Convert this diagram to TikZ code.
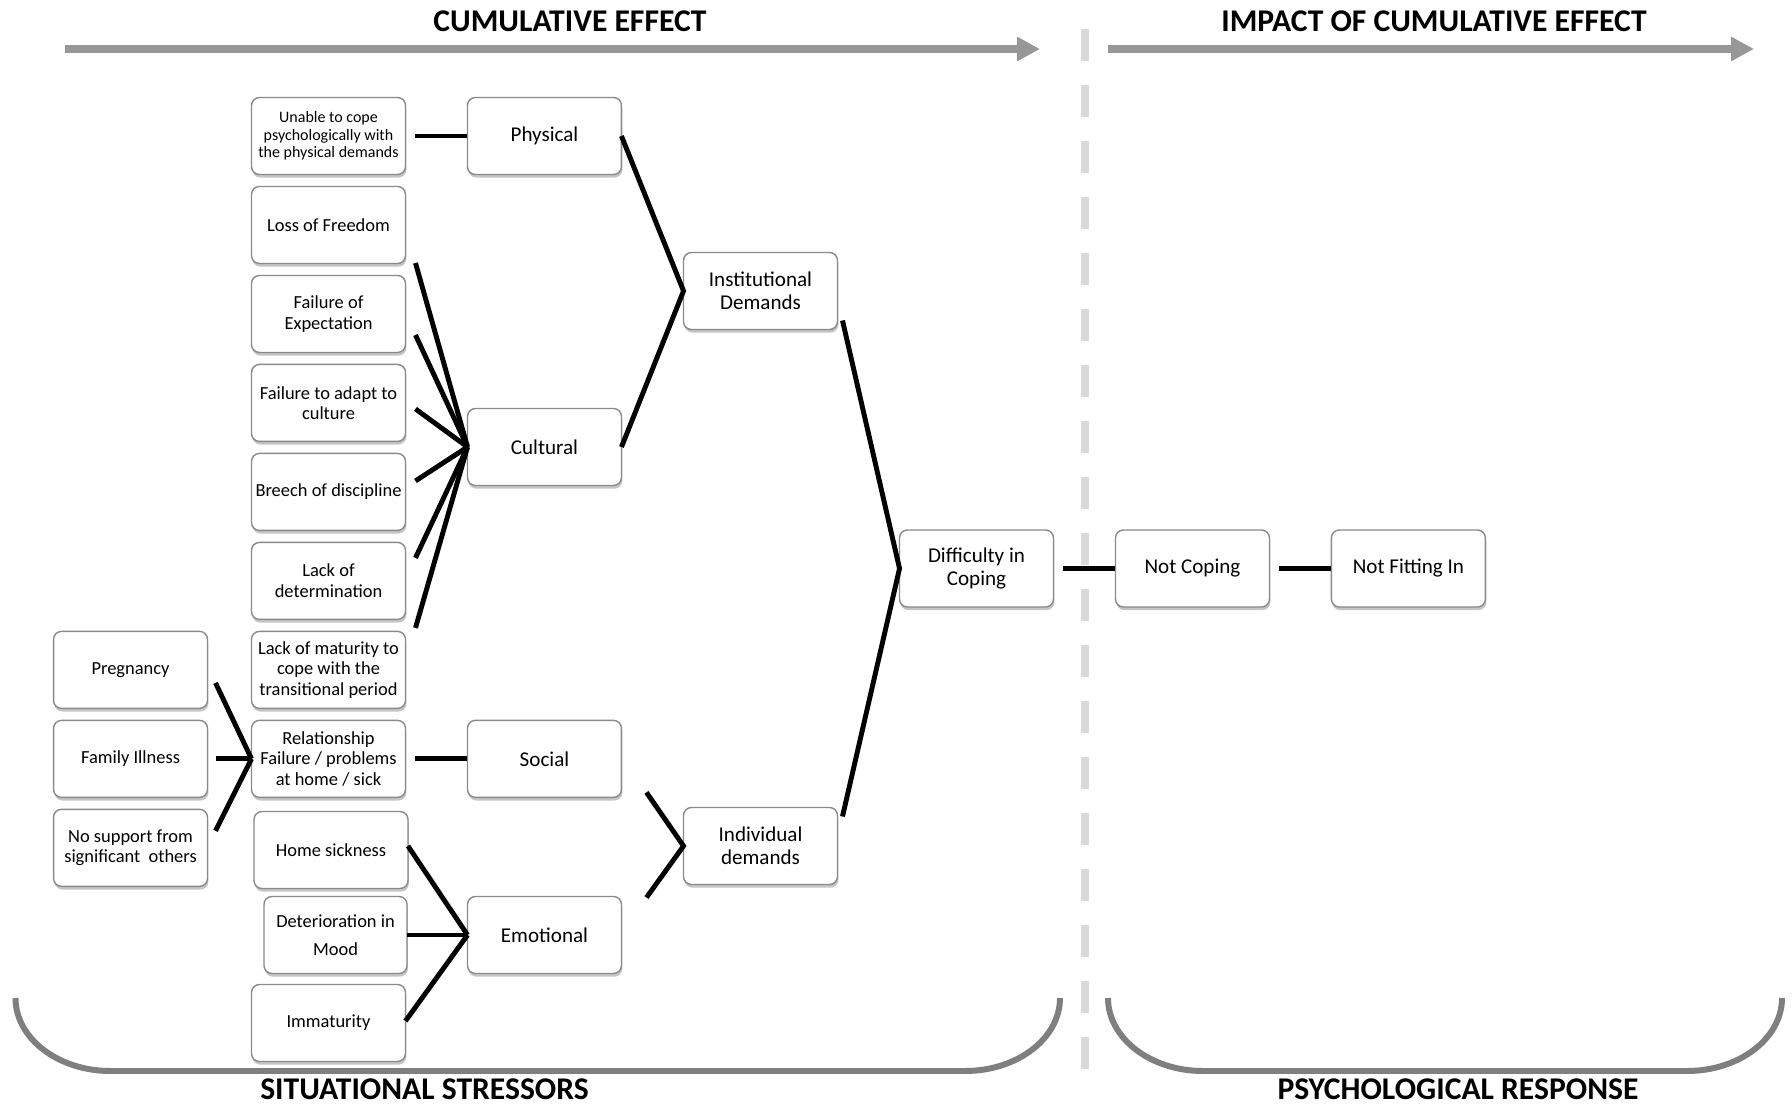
\documentclass[tikz,border=0pt]{standalone}
\usepackage{fontspec}
\setmainfont{Carlito}
\usetikzlibrary{positioning}
\usetikzlibrary{calc}
\usetikzlibrary{arrows.meta,shadows}
\definecolor{boxgray}{HTML}{8A8A8A}
\definecolor{arrowgray}{HTML}{979797}
\definecolor{bracegray}{HTML}{7F7F7F}
\definecolor{dividergray}{HTML}{D9D9D9}

\begin{document}
\begin{tikzpicture}[x=0.02cm, y=-0.02cm,
    stressor/.style={draw=boxgray, line width=0.8pt, rounded corners=4.5pt, fill=white,
      minimum width=3.08cm, minimum height=1.54cm, inner xsep=1pt, outer sep=0pt, align=center,
      font=\fontsize{10.5}{11.7}\selectfont,
      drop shadow={shadow xshift=0.5pt, shadow yshift=-1.8pt, fill=black!45, opacity=0.5}},
    demand/.style={stressor, font=\fontsize{12}{13.2}\selectfont},
    link/.style={line width=2.8pt, black},
    heading/.style={font=\bfseries\fontsize{18}{20}\selectfont},
    flow/.style={line width=4.5pt, arrowgray, -{Triangle[length=13pt, width=13pt]}},
    brace/.style={line width=3.4pt, bracegray},
    divider/.style={line width=4.5pt, dividergray, dash pattern=on 0.64cm off 0.48cm},
    node distance=0.24cm and 1.24cm]

    \fill[white] (0,0) rectangle (1792,1104);
    \useasboundingbox (0,0) rectangle (1792,1104);

    \node[heading] (cumhead) at (570,21) {CUMULATIVE EFFECT};
    \node[heading] (impacthead) at (1434,21) {IMPACT OF CUMULATIVE EFFECT};
    \draw[flow] (65,49) -- (1040,49);
    \draw[flow] (1108,49) -- (1754,49);
    \draw[divider] (1085,29) -- (1085,1069);

    \node[stressor, font=\fontsize{9.1}{10}\selectfont] (unable) at (328.5,136)
        {Unable to cope\\psychologically with\\the physical demands};
    \node[stressor, below=of unable] (loss) {Loss of Freedom};
    \node[stressor, below=of loss] (expect) {Failure of\\Expectation};
    \node[stressor, below=of expect] (adapt) {Failure to adapt to\\culture};
    \node[stressor, below=of adapt] (breech) {Breech of discipline};
    \node[stressor, below=of breech] (determ) {Lack of\\determination};
    \node[stressor, below=of determ] (maturity) {Lack of maturity to\\cope with the\\transitional period};
    \node[stressor, below=of maturity] (relation) {Relationship\\Failure / problems\\at home / sick};
    \node[stressor] (homesick) at (331,850) {Home sickness};
    \node[stressor, minimum width=2.86cm] (mood) at (335.5,935) {Deterioration in\\[4pt]Mood};
    \node[stressor] (immature) at (328.5,1023) {Immaturity};

    \node[stressor, left=0.88cm of maturity] (pregnancy) {Pregnancy};
    \node[stressor, below=of pregnancy] (illness) {Family Illness};
    \node[stressor, below=of illness] (nosupport) {No support from\\significant\ \ others};

    \node[demand, right=of unable] (physical) {Physical};
    \node[demand] (cultural) at (544.5,447) {Cultural};
    \node[demand, right=of relation] (social) {Social};
    \node[demand] (emotional) at (544.5,935) {Emotional};

    \node[demand] (institutional) at (760.5,291) {Institutional\\Demands};
    \node[demand] (individual) at (760.5,846) {Individual\\demands};

    \node[demand] (difficulty) at (976.5,568.5) {Difficulty in\\Coping};
    \node[demand, right=of difficulty] (notcoping) {Not Coping};
    \node[demand, right=of notcoping] (notfitting) {Not Fitting In};

    \draw[link] ($(unable.east)+(10,0)$) -- (physical.west);
    \foreach \src/\dy in {loss/38, expect/21, adapt/6, breech/-11, determ/-23, maturity/-42}
        \draw[link] ($(\src.east)+(10,\dy)$) -- (cultural.west);
    \foreach \src/\dy in {pregnancy/13, illness/0, nosupport/-17}
        \draw[link] ($(\src.east)+(8,\dy)$) -- (relation.west);
    \draw[link] ($(relation.east)+(10,0)$) -- (social.west);
    \foreach \src/\dy in {homesick/-4, mood/0, immature/-2}
        \draw[link] ($(\src.east)+(0,\dy)$) -- (emotional.west);

    \draw[link] (physical.east) -- (institutional.west) -- (cultural.east);
    \draw[link] ($(social.south east)+(25,-5)$) -- (individual.west)
        -- ($(emotional.north east)+(25,1)$);
    \draw[link] ($(institutional.south east)+(5,-9)$) -- (difficulty.west)
        -- ($(individual.north east)+(5,9)$);
    \draw[link] ($(difficulty.east)+(10,0)$) -- (notcoping.west);
    \draw[link] ($(notcoping.east)+(10,0)$) -- (notfitting.west);

    \draw[brace] (15.5,998) arc[start angle=180, end angle=90, x radius=95, y radius=73]
        -- (965,1071) arc[start angle=90, end angle=0, x radius=95, y radius=73];
    \draw[brace] (1108,998) arc[start angle=180, end angle=90, x radius=95, y radius=73]
        -- (1687,1071) arc[start angle=90, end angle=0, x radius=95, y radius=73];
    \node[heading] (stresshead) at (424.5,1089) {SITUATIONAL STRESSORS};
    \node[heading] (responsehead) at (1458,1089) {PSYCHOLOGICAL RESPONSE};
\end{tikzpicture}
\end{document}
